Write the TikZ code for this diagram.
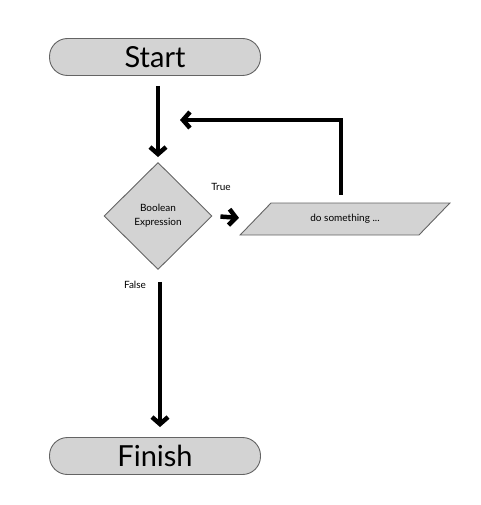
\documentclass[tikz,border=0pt]{standalone}
\usepackage{fontspec}
\setmainfont{Lato}
\definecolor{boxgray}{RGB}{211,211,211}
\definecolor{edgegray}{RGB}{100,100,100}
\usetikzlibrary{arrows.meta,shapes.geometric}
\begin{document}
\begin{tikzpicture}[
    x=1pt,y=-1pt,
    term/.style={rectangle,draw=edgegray,fill=boxgray,rounded corners=18pt,
                 line width=0.9pt,minimum width=211pt,minimum height=37pt,
                 font=\fontsize{29}{31}\selectfont},
    cond/.style={diamond,draw=edgegray,fill=boxgray,align=center,line width=0.9pt,
                 minimum width=108pt,minimum height=107pt,inner sep=0pt,
                 font=\fontsize{10}{14}\selectfont},
    act/.style={trapezium,trapezium left angle=45,trapezium right angle=135,
                trapezium stretches=true,draw=edgegray,fill=boxgray,line width=0.9pt,
                minimum width=210pt,minimum height=32pt,
                font=\fontsize{10}{12}\selectfont},
    lbl/.style={font=\fontsize{10}{12}\selectfont},
    arr/.style={-{Straight Barb[length=7pt,width=16pt]},line width=4.5pt}
  ]
    \useasboundingbox (0,0) rectangle (480,505);
    % Start and end
    \node[term] (start)  at (155,57)  {Start};
    \node[term] (finish) at (155,456) {Finish};
    % Decision + action
    \node[cond] (test) at (158,216) {Boolean\\Expression};
    \node[act]  (work) at (345,219) {do something ...};
    \coordinate (back) at (180,120);
    % Labels
    \node[lbl] (yes) at (221,187) {True};
    \node[lbl] (no)  at (135,285) {False};

    % Arrows
    \draw[arr,shorten <=10pt,shorten >=5pt] (test.north |- start.south) -- (test.north);
    \draw[arr,shorten <=8pt,shorten >=16pt] (test.east) -- (work.west);
    \draw[arr,shorten <=8pt] ([xshift=-4pt]work.north) |- (back);
    \draw[arr,shorten <=12pt,shorten >=10pt] ([xshift=2pt]test.south) -- ([xshift=2pt]test.south |- finish.north);
  \end{tikzpicture}
\end{document}
